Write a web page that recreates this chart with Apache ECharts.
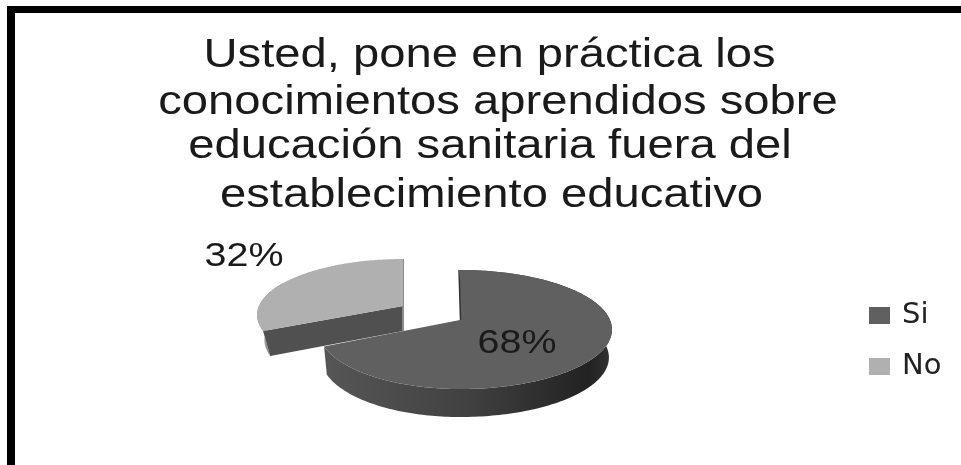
<!DOCTYPE html>
<html>
<head>
<meta charset="utf-8">
<style>html,body{margin:0;padding:0;background:#fff}#chart{width:961px;height:465px}</style>
<script src="https://cdn.jsdelivr.net/npm/echarts@6/dist/echarts.min.js"></script>
</head>
<body>
<div id="chart"></div>
<script>
// Survey answers, in percent
const categories = ['Si', 'No'];
const shares = [68, 32];
const sliceColors = ['#606060', '#b0b0b0'];
const titleLines = [
  'Usted, pone en práctica los',
  'conocimientos aprendidos sobre',
  'educación sanitaria fuera del',
  'establecimiento educativo'
];

const total = shares.reduce((a, b) => a + b, 0);
const TAU = Math.PI * 2;
const PERSP = 0.16;

// Tilted disc with a little perspective: near edge is larger than the far edge
function disc(o, theta, depth) {
  const v = -Math.cos(theta), s = 1 / (1 - PERSP * v), sn = Math.sin(theta);
  const rx = sn >= 0 ? o.rxR : o.rxL;
  const k = depth ? o.shrink : 1;
  return [o.cx + rx * sn * s * k, o.cy + o.h * v * s + (depth ? o.depth : 0)];
}
function arc(o, a, b, depth) {
  const pts = [], n = Math.max(2, Math.ceil(Math.abs(b - a) / 0.02));
  for (let i = 0; i <= n; i++) pts.push(disc(o, a + (b - a) * i / n, depth));
  return pts;
}
function poly(points, fill) {
  return { type: 'polygon', shape: { points }, style: { fill } };
}
function percentText(text, x, y) {
  return {
    type: 'text', x, y, scaleX: 1.16,
    style: { text, fill: '#1a1a1a', font: '34px "Liberation Sans"', textAlign: 'center', textVerticalAlign: 'middle' }
  };
}

const siGeom = { cx: 460, cy: 320, h: 58, rxR: 150, rxL: 140, shrink: 0.98, depth: 28 };
const noGeom = { cx: 403, cy: 306, h: 54.5, rxR: 140, rxL: 144, shrink: 0.95, depth: 25 };

// Slice angles follow the values, clockwise from twelve o'clock
const siEnd = shares[0] / total * TAU;

function renderSi() {
  const o = siGeom;
  const top = arc(o, 0, siEnd, false);
  const bottom = arc(o, 0, siEnd, true).reverse();
  const side = new echarts.graphic.LinearGradient(0, 0, 1, 0, [
    { offset: 0, color: '#565656' },
    { offset: 0.5, color: '#414141' },
    { offset: 0.92, color: '#222222' },
    { offset: 1, color: '#333333' }
  ]);
  return {
    type: 'group',
    children: [
      poly(top.concat(bottom), side),
      poly([[o.cx, o.cy]].concat(top), sliceColors[0]),
      { type: 'line', shape: { x1: o.cx - 1, y1: o.cy - 50, x2: o.cx + 0.5, y2: o.cy }, style: { stroke: '#333', lineWidth: 1.5 } },
      percentText(shares[0] + '%', 517, 344)
    ]
  };
}

function renderNo() {
  const o = noGeom;
  const top = arc(o, siEnd, TAU, false);
  const outer = arc(o, siEnd, siEnd + 0.9, false).concat(arc(o, siEnd, siEnd + 0.9, true).reverse());
  const apex = [o.cx, o.cy], apexLow = [o.cx, o.cy + o.depth];
  const far = disc(o, TAU, false);
  return {
    type: 'group',
    children: [
      poly(outer, '#949494'),
      poly([apex, disc(o, siEnd, false), disc(o, siEnd, true), apexLow], '#505050'),
      { type: 'polyline', shape: { points: [far, apex, apexLow] }, style: { stroke: '#8c8c8c', lineWidth: 2, fill: null } },
      poly([apex].concat(top), sliceColors[1]),
      percentText(shares[1] + '%', 244, 257)
    ]
  };
}

// Title lines are set one by one so each can sit on its own centre
const titleCentres = [489.5, 498, 490, 491.5];
const titleTops = [36, 83, 127, 176];
const titleText = titleLines.map((text, i) => ({
  type: 'text', x: titleCentres[i], y: titleTops[i], scaleX: 1.18,
  style: { text, font: '40px "Liberation Sans"', fill: '#1a1a1a', textAlign: 'center' }
}));

const chart = echarts.init(document.getElementById('chart'), null, { renderer: 'canvas' });
chart.setOption({
  animation: false,
  backgroundColor: '#fff',
  legend: {
    orient: 'vertical',
    left: 869,
    top: 301,
    padding: 0,
    itemWidth: 21,
    itemHeight: 17,
    itemGap: 22,
    icon: 'rect',
    data: categories,
    textStyle: { fontFamily: 'DejaVu Sans', fontSize: 29, color: '#222', padding: [0, 0, 0, 7] }
  },
  graphic: [
    { type: 'rect', shape: { x: 7, y: 6, width: 954, height: 7, r: [3, 0, 0, 0] }, style: { fill: '#000' } },
    { type: 'rect', shape: { x: 7, y: 6, width: 8, height: 459 }, style: { fill: '#000' } }
  ].concat(titleText),
  series: [
    { type: 'custom', name: categories[1], coordinateSystem: 'none', data: [shares[1]], renderItem: renderNo, silent: true, itemStyle: { color: sliceColors[1] } },
    { type: 'custom', name: categories[0], coordinateSystem: 'none', data: [shares[0]], renderItem: renderSi, silent: true, itemStyle: { color: sliceColors[0] } }
  ]
});
</script>
</body>
</html>
